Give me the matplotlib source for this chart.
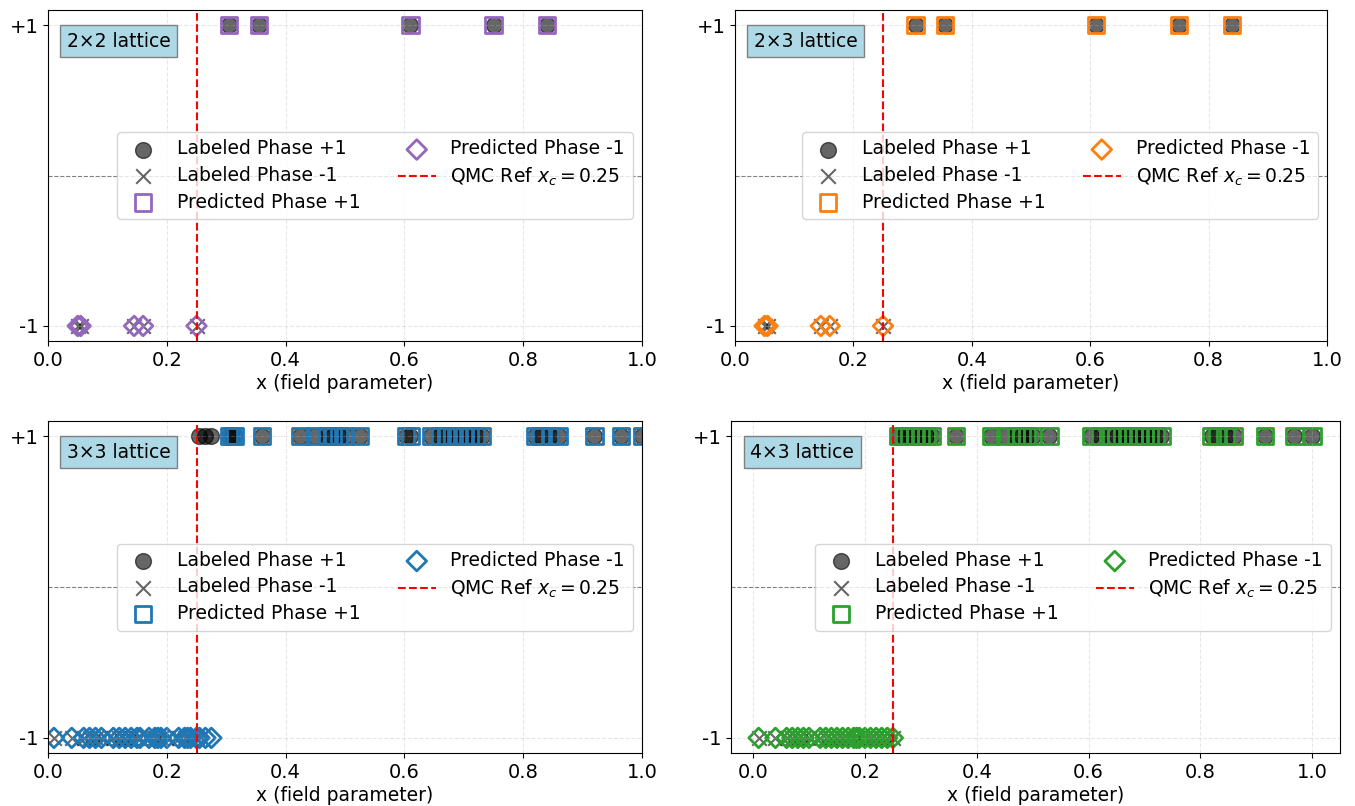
import matplotlib
matplotlib.use("Agg")
import matplotlib.pyplot as plt

plt.rcParams["font.size"] = 13.5
plt.rcParams["xtick.labelsize"] = 14
plt.rcParams["ytick.labelsize"] = 14

W, H = 1355, 806
X_REF = 0.25

# 2x2 lattice
lab_p1_22 = [0.305, 0.355, 0.61, 0.75, 0.84]
lab_m1_22 = [0.05, 0.055, 0.145, 0.16, 0.25]
pred_p1_22 = [0.305, 0.355, 0.61, 0.75, 0.84]
pred_m1_22 = [0.05, 0.055, 0.145, 0.16, 0.25]

# 2x3 lattice
lab_p1_23 = [0.305, 0.355, 0.61, 0.75, 0.84]
lab_m1_23 = [0.05, 0.055, 0.145, 0.16, 0.25]
pred_p1_23 = [0.305, 0.355, 0.61, 0.75, 0.84]
pred_m1_23 = [0.05, 0.055, 0.145, 0.16, 0.25]

# 3x3 lattice
lab_p1_33 = [0.255, 0.265, 0.275, 0.305, 0.31, 0.315, 0.36, 0.425, 0.45, 0.47,
             0.48, 0.49, 0.50, 0.525, 0.603, 0.61, 0.645, 0.66, 0.67, 0.68,
             0.69, 0.70, 0.71, 0.72, 0.73, 0.82, 0.83, 0.845, 0.86, 0.92,
             0.965, 1.0]
lab_m1_33 = [0.01, 0.04, 0.06, 0.07, 0.08, 0.09, 0.11, 0.12, 0.13, 0.14, 0.15,
             0.155, 0.17, 0.18, 0.185, 0.19, 0.20, 0.22, 0.23, 0.235, 0.24, 0.25]
pred_p1_33 = [0.305, 0.31, 0.315, 0.36, 0.425, 0.45, 0.47, 0.48, 0.49, 0.50,
              0.525, 0.603, 0.61, 0.645, 0.66, 0.67, 0.68, 0.69, 0.70, 0.71,
              0.72, 0.73, 0.82, 0.83, 0.845, 0.86, 0.92, 0.965, 1.0]
pred_m1_33 = [0.01, 0.04, 0.06, 0.07, 0.08, 0.09, 0.11, 0.12, 0.13, 0.14, 0.15,
              0.155, 0.17, 0.18, 0.185, 0.19, 0.20, 0.22, 0.23, 0.235, 0.24,
              0.25, 0.255, 0.265, 0.275]

# 4x3 lattice
lab_p1_43 = [0.26, 0.27, 0.28, 0.29, 0.30, 0.31, 0.32, 0.363, 0.425, 0.45, 0.47,
             0.48, 0.49, 0.50, 0.53, 0.605, 0.62, 0.64, 0.65, 0.66, 0.67, 0.68,
             0.69, 0.70, 0.71, 0.72, 0.73, 0.82, 0.83, 0.845, 0.86, 0.915,
             0.968, 1.0]
lab_m1_43 = [0.01, 0.04, 0.06, 0.07, 0.08, 0.09, 0.10, 0.12, 0.13, 0.14, 0.15,
             0.16, 0.17, 0.18, 0.185, 0.19, 0.20, 0.21, 0.22, 0.23, 0.24, 0.25]
pred_p1_43 = list(lab_p1_43)
pred_m1_43 = list(lab_m1_43)

panels = [
    ("2×2 lattice", "tab:purple", lab_p1_22, lab_m1_22, pred_p1_22, pred_m1_22, (0, 1)),
    ("2×3 lattice", "tab:orange", lab_p1_23, lab_m1_23, pred_p1_23, pred_m1_23, (0, 1)),
    ("3×3 lattice", "tab:blue", lab_p1_33, lab_m1_33, pred_p1_33, pred_m1_33, (0, 1)),
    ("4×3 lattice", "tab:green", lab_p1_43, lab_m1_43, pred_p1_43, pred_m1_43, None),
]

# axes boxes in pixels: left, right, top, bottom
boxes = [(48, 642, 10, 341), (735, 1327, 10, 341),
         (48, 642, 421, 753), (731, 1340, 421, 753)]

fig, axes = plt.subplots(2, 2, figsize=(W / 100, H / 100), dpi=100)

for ax, box, (name, col, lp, lm, pp, pm, xlim) in zip(axes.flat, boxes, panels):
    l, r, t, b = box
    ax.set_position([l / W, 1 - b / H, (r - l) / W, (b - t) / H])
    ax.scatter(lp, [1] * len(lp), marker="o", color="black", alpha=0.6, s=130,
               label="Labeled Phase +1")
    ax.scatter(lm, [-1] * len(lm), marker="x", color="black", alpha=0.6, s=110,
               label="Labeled Phase -1")
    ax.scatter(pp, [1] * len(pp), marker="s", facecolors="none", edgecolors=col,
               s=140, linewidths=2, label="Predicted Phase +1")
    ax.scatter(pm, [-1] * len(pm), marker="D", facecolors="none", edgecolors=col,
               s=100, linewidths=2, label="Predicted Phase -1")
    ax.axvline(X_REF, color="red", linestyle="--", linewidth=1.5,
               label=r"QMC Ref $x_c = 0.25$")
    ax.axhline(0, color="gray", linestyle="--", linewidth=0.8)
    ax.set_yticks([-1, 1])
    ax.set_yticklabels(["-1", "+1"])
    ax.set_ylim(-1.1, 1.1)
    if xlim is not None:
        ax.set_xlim(*xlim)
    ax.set_xlabel("x (field parameter)", labelpad=3)
    ax.grid(True, linestyle="--", alpha=0.3)
    ax.text(0.032, 0.935, name, transform=ax.transAxes, va="top", ha="left",
            fontsize=13.5,
            bbox=dict(boxstyle="square,pad=0.35", facecolor="lightblue",
                      edgecolor="gray"))
    ax.legend(loc="center right", ncol=2, labelspacing=0.4, columnspacing=2.0)

fig.savefig("out.png", dpi=100)
